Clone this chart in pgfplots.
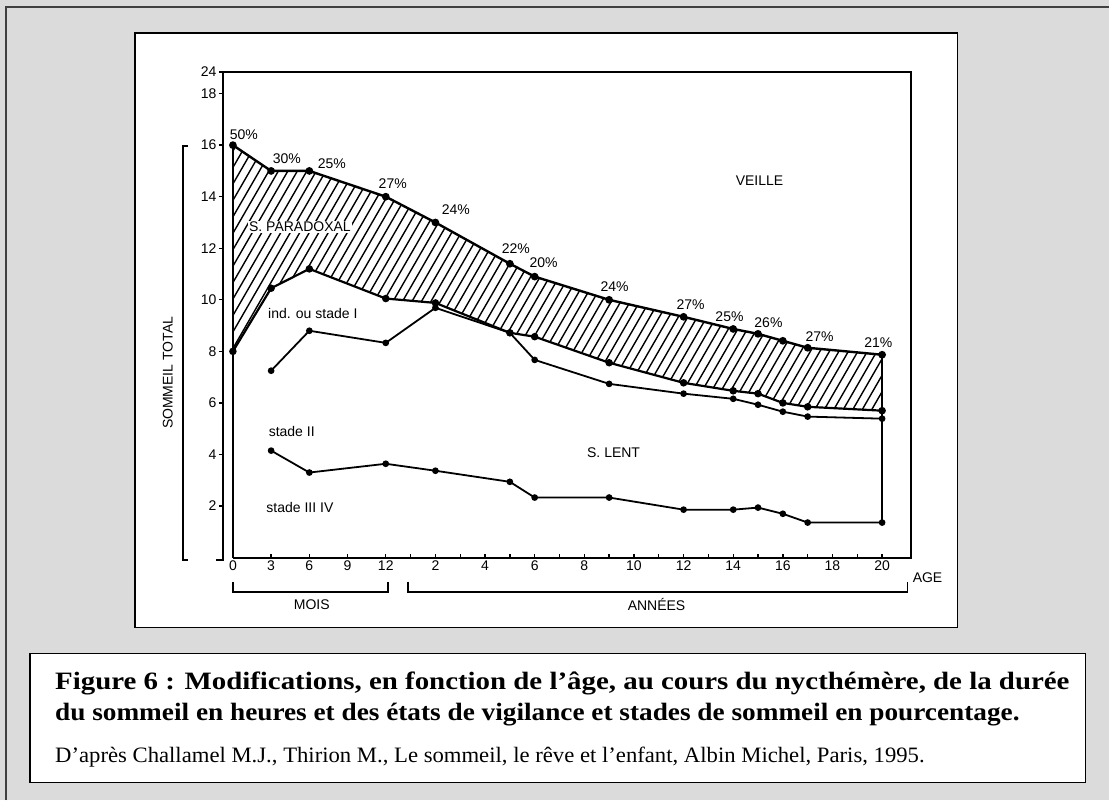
\documentclass[border=0pt]{standalone}
\usepackage{fontspec}
\setmainfont{Liberation Serif}
\setsansfont{Liberation Sans}
\usepackage{graphicx}
\usepackage{pgfplots}
\pgfplotsset{compat=1.18}

\newcommand{\cf}{\sffamily\fontsize{14bp}{16bp}\selectfont}

\begin{document}
\begin{tikzpicture}[x=1bp,y=1bp]
% scanned page background
\fill[black!14] (0,0) rectangle (1110,801);
\draw[black!75, line width=1.5bp] (6,0) -- (6,794) -- (1110,794);
% chart panel and caption box
\filldraw[fill=white, draw=black, line width=1.6bp] (135,173) rectangle (958,768);
\filldraw[fill=white, draw=black, line width=1.4bp] (30,18) rectangle (1086,147);

\node[anchor=base west, inner sep=0] at (55,111)
  {\resizebox{1015bp}{\height}{\bfseries\fontsize{25bp}{28bp}\selectfont Figure 6 : Modifications, en fonction de l’âge, au cours du nycthémère, de la durée}};
\node[anchor=base west, inner sep=0] at (55,80)
  {\resizebox{965bp}{\height}{\bfseries\fontsize{25bp}{28bp}\selectfont du sommeil en heures et des états de vigilance et stades de sommeil en pourcentage.}};
\node[anchor=base west, inner sep=0] at (55,38)
  {\resizebox{870bp}{\height}{\fontsize{22bp}{25bp}\selectfont D’après Challamel M.J., Thirion M., Le sommeil, le rêve et l’enfant, Albin Michel, Paris, 1995.}};

\begin{axis}[
  at={(223bp,243bp)}, anchor=south west,
  scale only axis, width=689bp, height=486bp,
  xmin=-6.565, xmax=21.18, ymin=0, ymax=18.84,
  axis line style={draw=none},
  clip=false,
  xtick={-6.16,-4.62,-3.08,-1.54,0,1,2,3,4,5,6,7,8,9,10,11,12,13,14,15,16,17,18,19,20},
  xticklabels={0,3,6,9,12,,2,,4,,6,,8,,10,,12,,14,,16,,18,,20},
  ytick={2,4,6,8,10,12,14,16,18,18.84},
  yticklabels={2,4,6,8,10,12,14,16,18,24},
  xtick pos=bottom, ytick pos=left,
  tick align=inside, major tick length=4bp,
  tick style={black, line width=1.3bp},
  y tick style={xshift=-4bp},
  ticklabel style={font=\cf},
  /pgf/number format/assume math mode=true,
  yticklabel style={xshift=-3bp},
]
% hatched band of paradoxical sleep (between total and its lower limit)
\begin{scope}
  \clip (axis cs:-6.16,16.0) -- (axis cs:-4.62,15.0) -- (axis cs:-3.08,15.0) -- (axis cs:0,14.0)
    -- (axis cs:2,13.0) -- (axis cs:5,11.4) -- (axis cs:6,10.9) -- (axis cs:9,10.0)
    -- (axis cs:12,9.34) -- (axis cs:14,8.87) -- (axis cs:15,8.68) -- (axis cs:16,8.41)
    -- (axis cs:17,8.14) -- (axis cs:20,7.87)
    -- (axis cs:20,5.7) -- (axis cs:17,5.85) -- (axis cs:16,6.0) -- (axis cs:15,6.36)
    -- (axis cs:14,6.47) -- (axis cs:12,6.78) -- (axis cs:9,7.56) -- (axis cs:6,8.57)
    -- (axis cs:5,8.72) -- (axis cs:2,9.88) -- (axis cs:0,10.05) -- (axis cs:-3.08,11.2)
    -- (axis cs:-4.62,10.45) -- (axis cs:-6.16,8.0) -- cycle;
  \pgfplotsinvokeforeach{-16,-15.6174,...,17}{\draw[line width=1.4bp] (axis cs:#1,0) -- +(60:700bp);}
\end{scope}
% total sleep
\addplot[black, line width=2.4bp, mark=*, mark size=2.6bp] coordinates {
  (-6.16,16.0) (-4.62,15.0) (-3.08,15.0) (0,14.0) (2,13.0) (5,11.4) (6,10.9)
  (9,10.0) (12,9.34) (14,8.87) (15,8.68) (16,8.41) (17,8.14) (20,7.87)};
% lower limit of paradoxical sleep
\addplot[black, line width=2.2bp, mark=*, mark size=2.6bp] coordinates {
  (-6.16,8.0) (-4.62,10.45) (-3.08,11.2) (0,10.05) (2,9.88) (5,8.72) (6,8.57)
  (9,7.56) (12,6.78) (14,6.47) (15,6.36) (16,6.0) (17,5.85) (20,5.7)};
% stade I / stade II
\addplot[black, line width=1.8bp, mark=*, mark size=2.4bp] coordinates {
  (-4.62,7.25) (-3.08,8.8) (0,8.33) (2,9.69) (5,8.72) (6,7.67) (9,6.74)
  (12,6.36) (14,6.16) (15,5.93) (16,5.66) (17,5.47) (20,5.39)};
% stade II / stade III IV
\addplot[black, line width=1.8bp, mark=*, mark size=2.4bp] coordinates {
  (-4.62,4.15) (-3.08,3.3) (0,3.64) (2,3.37) (5,2.94) (6,2.33) (9,2.33)
  (12,1.86) (14,1.86) (15,1.94) (16,1.7) (17,1.36) (20,1.36)};
% vertical limits at birth and 20 years
\addplot[black, line width=1.8bp] coordinates {(-6.16,0) (-6.16,16)};
\addplot[black, line width=1.6bp] coordinates {(20,1.36) (20,7.87)};

% frame
\draw[black, line width=2bp] (axis cs:-6.16,0) -- (axis cs:21.18,0) -- (axis cs:21.18,18.84)
  -- (axis cs:-6.565,18.84) -- (axis cs:-6.565,-0.08) -- (axis cs:-6.85,-0.08);
% left bracket and axis title
\draw[black, line width=1.8bp] (axis cs:-7.95,15.97) -- (axis cs:-8.18,15.97)
  -- (axis cs:-8.18,-0.08) -- (axis cs:-7.95,-0.08);
\node[font=\cf, rotate=90] at (axis cs:-8.78,7.17) {SOMMEIL TOTAL};
% brackets under the x axis
\draw[black, line width=1.8bp] (axis cs:-6.16,-0.93) -- (axis cs:-6.16,-1.32)
  -- (axis cs:0.08,-1.32) -- (axis cs:0.08,-0.93);
\draw[black, line width=1.8bp] (axis cs:0.89,-0.93) -- (axis cs:0.89,-1.32)
  -- (axis cs:21.02,-1.32) -- (axis cs:21.02,-0.93);
\node[font=\cf] at (axis cs:-2.98,-1.82) {MOIS};
\node[font=\cf] at (axis cs:10.91,-1.82) {ANNÉES};
\node[font=\cf] at (axis cs:21.83,-0.78) {AGE};

% area names
\node[font=\cf] at (axis cs:15.06,14.61) {VEILLE};
\node[font=\cf, fill=white, inner sep=1bp] at (axis cs:-3.46,12.83) {S. PARADOXAL};
\node[font=\cf] at (axis cs:-2.94,9.46) {ind. ou stade I};
\node[font=\cf] at (axis cs:-3.79,4.88) {stade II};
\node[font=\cf] at (axis cs:-3.46,1.94) {stade III IV};
\node[font=\cf] at (axis cs:9.18,4.07) {S. LENT};

% share of paradoxical sleep
\node[font=\cf] at (axis cs:-5.72,16.4) {50\%};
\node[font=\cf] at (axis cs:-3.99,15.47) {30\%};
\node[font=\cf] at (axis cs:-2.17,15.27) {25\%};
\node[font=\cf] at (axis cs:0.28,14.5) {27\%};
\node[font=\cf] at (axis cs:2.82,13.49) {24\%};
\node[font=\cf] at (axis cs:5.24,11.98) {22\%};
\node[font=\cf] at (axis cs:6.36,11.43) {20\%};
\node[font=\cf] at (axis cs:9.22,10.5) {24\%};
\node[font=\cf] at (axis cs:12.28,9.81) {27\%};
\node[font=\cf] at (axis cs:13.85,9.34) {25\%};
\node[font=\cf] at (axis cs:15.42,9.11) {26\%};
\node[font=\cf] at (axis cs:17.48,8.57) {27\%};
\node[font=\cf] at (axis cs:19.85,8.33) {21\%};
\end{axis}
\end{tikzpicture}
\end{document}
